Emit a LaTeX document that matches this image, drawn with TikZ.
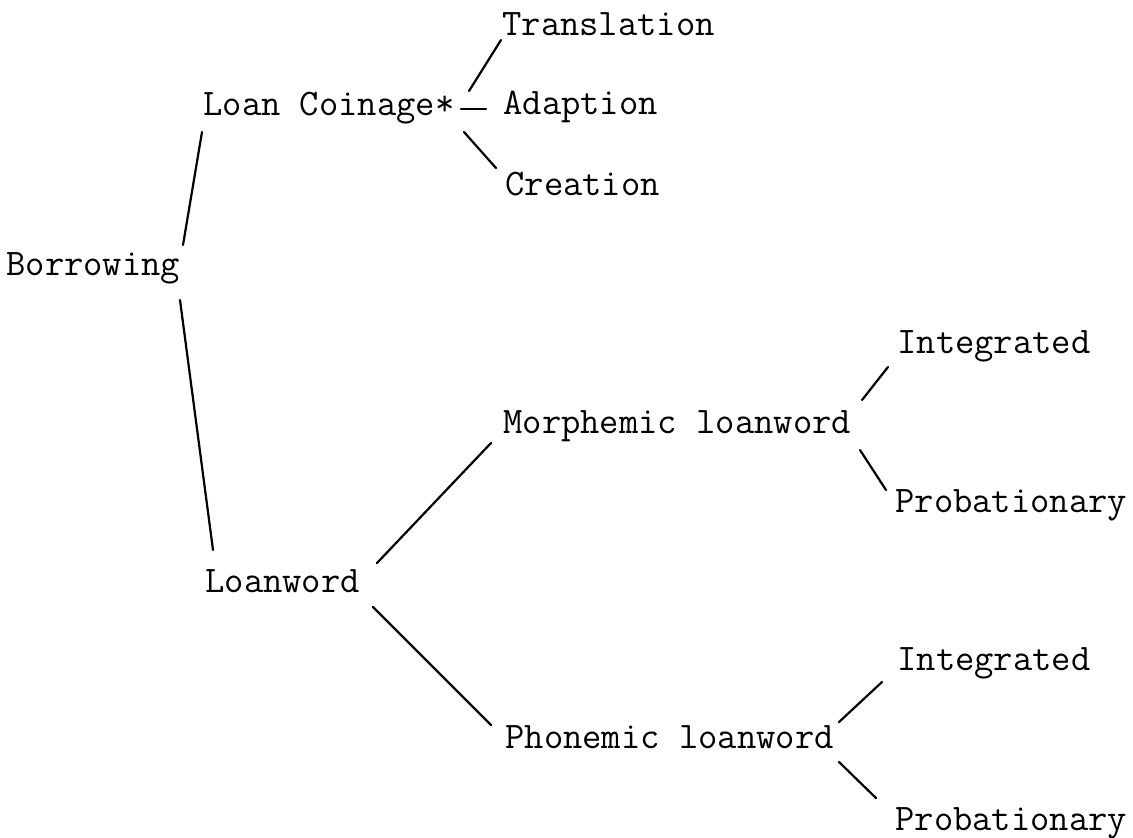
\documentclass[tikz,border=0pt]{standalone}
\usetikzlibrary{calc}
\begin{document}
\begin{tikzpicture}[x=0.5pt,y=-0.5pt,
  lbl/.style={anchor=base west,inner sep=0pt,font=\fontsize{18.75}{22}\selectfont\ttfamily},
  conn/.style={line width=1.1pt,line cap=round}]
\useasboundingbox (0,0) rectangle (1133,837);
% labels
\node[lbl] (tr) at (502,35)  {Translation};
\node[lbl] (lc) at (203,115) {Loan Coinage*};
\node[lbl] (ad) at (503,114) {Adaption};
\node[lbl] (cr) at (505,195) {Creation};
\node[lbl] (b)  at (6,275)   {Borrowing};
\node[lbl] (i1) at (897,353) {Integrated};
\node[lbl] (mo) at (503,433) {Morphemic loanword};
\node[lbl] (p1) at (895,512) {Probationary};
\node[lbl] (lw) at (205,592) {Loanword};
\node[lbl] (i2) at (897,670) {Integrated};
\node[lbl] (ph) at (505,748) {Phonemic loanword};
\node[lbl] (p2) at (895,830) {Probationary};
% connectors
\draw[conn] ($(b.base west)+(177,-30)$) -- ($(lc.base west)+(-1,17)$);
\draw[conn] ($(b.base west)+(174,25)$) -- ($(lw.base west)+(8,-42)$);
\draw[conn] ($(lc.base west)+(266,-24)$) -- ($(tr.base west)+(-1,5)$);
\draw[conn] ($(lc.base west)+(258,-6)$) -- ($(ad.base west)+(-17,-5)$);
\draw[conn] ($(lc.base west)+(261,17)$) -- ($(cr.base west)+(-9,-27)$);
\draw[conn] ($(lw.base west)+(172,-29)$) -- ($(mo.base west)+(-12,10)$);
\draw[conn] ($(lw.base west)+(168,15)$) -- ($(ph.base west)+(-14,-23)$);
\draw[conn] ($(mo.base west)+(359,-33)$) -- ($(i1.base west)+(-9,14)$);
\draw[conn] ($(mo.base west)+(357,17)$) -- ($(p1.base west)+(-9,-22)$);
\draw[conn] ($(ph.base west)+(334,-26)$) -- ($(i2.base west)+(-15,12)$);
\draw[conn] ($(ph.base west)+(334,14)$) -- ($(p2.base west)+(-19,-32)$);
\end{tikzpicture}
\end{document}
